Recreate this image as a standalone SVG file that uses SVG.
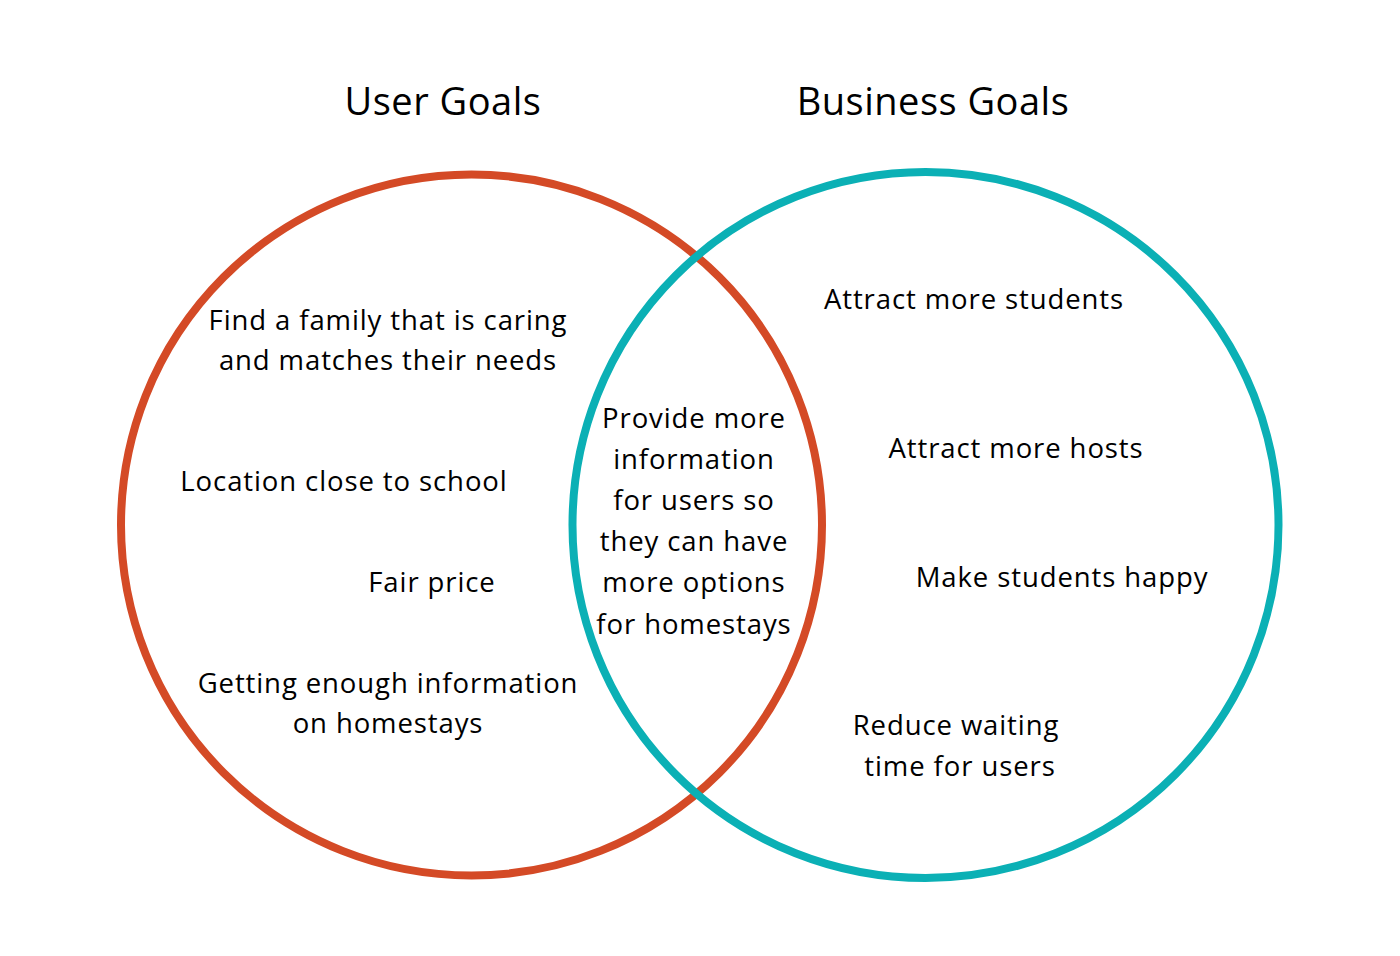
<svg xmlns="http://www.w3.org/2000/svg" width="1400" height="956" viewBox="0 0 1400 956">
<style>
.t{font-family:"Open Sans","Liberation Sans",sans-serif;font-size:27.5px;letter-spacing:0.9px;fill:#000;text-anchor:middle}
.h{font-family:"Open Sans","Liberation Sans",sans-serif;font-size:38px;letter-spacing:0.5px;fill:#000;text-anchor:middle}
.c{fill:none;stroke-width:8}
</style>
<rect width="1400" height="956" fill="#fff"/>
<g id="user-goals">
<circle class="c" cx="471.5" cy="525" r="350.5" stroke="#D44A26"/>
<text class="h" x="443" y="115">User Goals</text>
<text class="t" x="388" y="330">Find a family that is caring</text>
<text class="t" x="388" y="370">and matches their needs</text>
<text class="t" x="344" y="491">Location close to school</text>
<text class="t" x="432" y="592">Fair price</text>
<text class="t" x="388" y="693">Getting enough information</text>
<text class="t" x="388" y="733">on homestays</text>
</g>
<g id="business-goals">
<circle class="c" cx="925.5" cy="525" r="353" stroke="#0BB0B5"/>
<text class="h" x="933" y="115">Business Goals</text>
<text class="t" x="974" y="309">Attract more students</text>
<text class="t" x="1016" y="458">Attract more hosts</text>
<text class="t" x="1062" y="587">Make students happy</text>
<text class="t" x="956" y="735">Reduce waiting</text>
<text class="t" x="960" y="776">time for users</text>
</g>
<g id="overlap">
<text class="t" x="694" y="428">Provide more</text>
<text class="t" x="694" y="469">information</text>
<text class="t" x="694" y="510">for users so</text>
<text class="t" x="694" y="551">they can have</text>
<text class="t" x="694" y="592">more options</text>
<text class="t" x="694" y="634">for homestays</text>
</g>
<g id="connectors"/>
</svg>
